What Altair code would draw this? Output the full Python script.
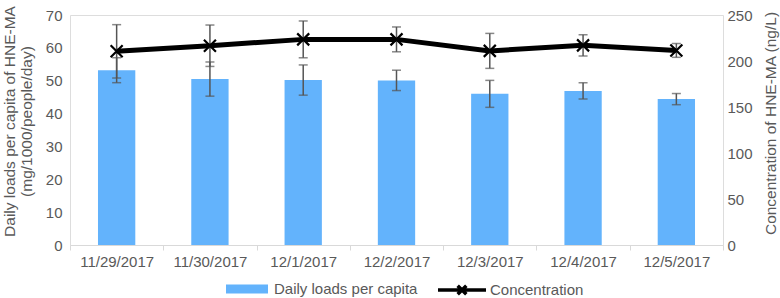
import altair as alt
import pandas as pd

dates = ["11/29/2017", "11/30/2017", "12/1/2017", "12/2/2017", "12/3/2017", "12/4/2017", "12/5/2017"]
loads = [53.2, 50.5, 50.2, 50.1, 46.0, 46.9, 44.4]
loads_err = [3.8, 5.2, 4.6, 3.1, 4.1, 2.5, 1.7]
conc = [210.5, 216.6, 223.5, 223.5, 211.0, 217.0, 211.5]
conc_err = [29.0, 22.5, 20.0, 13.5, 19.0, 11.5, 7.5]

S1 = "Daily loads per capita"
S2 = "Concentration"

df = pd.DataFrame({
    "date": dates,
    "loads": loads,
    "l_lo": [v - e for v, e in zip(loads, loads_err)],
    "l_hi": [v + e for v, e in zip(loads, loads_err)],
    "conc": conc,
    "c_lo": [v - e for v, e in zip(conc, conc_err)],
    "c_hi": [v + e for v, e in zip(conc, conc_err)],
    "s1": [S1] * len(dates),
    "s2": [S2] * len(dates),
})

FONT = "Liberation Sans"
TXT = "#595959"
BLUE = "#63b3fc"
ERR = "#555555"

x_enc = alt.X(
    "date:N", sort=dates,
    scale=alt.Scale(paddingInner=0, paddingOuter=0),
    axis=alt.Axis(title=None, labelAngle=0, tickBand="extent", domainColor="#d9d9d9",
                  tickColor="#d9d9d9", tickSize=5, labelPadding=4, labelFontSize=15,
                  labelColor=TXT, labelFont=FONT),
)

left_axis = alt.Axis(
    values=[0, 10, 20, 30, 40, 50, 60, 70],
    title=["Daily loads per capita of HNE-MA", "(mg/1000/people/day)"],
    grid=False, domain=False, ticks=False, tickSize=0, labelPadding=8,
    labelFontSize=15, labelColor=TXT, labelFont=FONT,
    titleFontSize=15.5, titleFontWeight="normal", titleColor=TXT, titleFont=FONT,
    titleX=-68, titleY=106, titleBaseline="top", titleAlign="center", titleAngle=270,
    titleLineHeight=17,
)
left_scale = alt.Scale(domain=[0, 70], nice=False)

right_axis = alt.Axis(
    orient="right",
    values=[0, 50, 100, 150, 200, 250],
    title="Concentration of HNE-MA (ng/L)",
    grid=False, domain=False, ticks=False, tickSize=0, labelPadding=4,
    labelFontSize=15, labelColor=TXT, labelFont=FONT,
    titleFontSize=15.5, titleFontWeight="normal", titleColor=TXT, titleFont=FONT,
    titleX=47, titleY=108, titleBaseline="middle", titleAlign="center", titleAngle=270,
)
right_scale = alt.Scale(domain=[0, 250], nice=False)

base = alt.Chart(df)

bars = base.mark_bar(width=alt.RelativeBandSize(0.4)).encode(
    x=x_enc,
    y=alt.Y("loads:Q", scale=left_scale, axis=left_axis),
    fill=alt.Fill("s1:N", scale=alt.Scale(domain=[S1], range=[BLUE]),
                  legend=alt.Legend(title=None, orient="none", legendX=156, legendY=253,
                                    symbolType="M-1,-0.21H1V0.21H-1Z", symbolSize=1764,
                                    symbolStrokeWidth=0, labelFontSize=15, labelColor=TXT,
                                    labelFont=FONT, labelOffset=6)),
)
bar_rule = base.mark_rule(color=ERR, strokeWidth=1.5).encode(
    x=x_enc,
    y=alt.Y("l_lo:Q", scale=left_scale, axis=left_axis),
    y2="l_hi:Q",
)
bar_cap_lo = base.mark_tick(color=ERR, size=9, thickness=1.5).encode(
    x=x_enc, y=alt.Y("l_lo:Q", scale=left_scale, axis=left_axis))
bar_cap_hi = base.mark_tick(color=ERR, size=9, thickness=1.5).encode(
    x=x_enc, y=alt.Y("l_hi:Q", scale=left_scale, axis=left_axis))

left = alt.layer(bars, bar_rule, bar_cap_lo, bar_cap_hi)

line = base.mark_line(strokeWidth=5).encode(
    x=x_enc,
    y=alt.Y("conc:Q", scale=right_scale, axis=right_axis),
    stroke=alt.Stroke("s2:N", scale=alt.Scale(domain=[S2], range=["#000000"]),
                      legend=alt.Legend(title=None, orient="none", legendX=366, legendY=249,
                                        symbolType="M-1,0H1M-0.18,-0.18L0.18,0.18M-0.18,0.18L0.18,-0.18",
                                        symbolSize=2304, symbolStrokeWidth=3.5,
                                        labelFontSize=15, labelColor=TXT, labelFont=FONT,
                                        labelOffset=2)),
)
conc_rule = base.mark_rule(color=ERR, strokeWidth=1.5).encode(
    x=x_enc,
    y=alt.Y("c_lo:Q", scale=right_scale, axis=right_axis),
    y2="c_hi:Q",
)
conc_cap_lo = base.mark_tick(color=ERR, size=9, thickness=1.5).encode(
    x=x_enc, y=alt.Y("c_lo:Q", scale=right_scale, axis=right_axis))
conc_cap_hi = base.mark_tick(color=ERR, size=9, thickness=1.5).encode(
    x=x_enc, y=alt.Y("c_hi:Q", scale=right_scale, axis=right_axis))
points = base.mark_point(shape="M-1,-1L1,1M-1,1L1,-1", size=144, filled=False,
                         stroke="#000000", strokeWidth=2.2, opacity=1).encode(
    x=x_enc, y=alt.Y("conc:Q", scale=right_scale, axis=right_axis))

right = alt.layer(line, conc_rule, conc_cap_lo, conc_cap_hi, points)

chart = alt.layer(left, right).resolve_scale(y="independent", fill="independent", stroke="independent").properties(
    width=653, height=230,
    autosize=alt.AutoSizeParams(type="none"),
    padding={"left": 70, "top": 15, "right": 57, "bottom": 53},
).configure_view(stroke=None).configure(background="white")

chart.save("out.html", embed_options={"renderer": "svg", "actions": False})
